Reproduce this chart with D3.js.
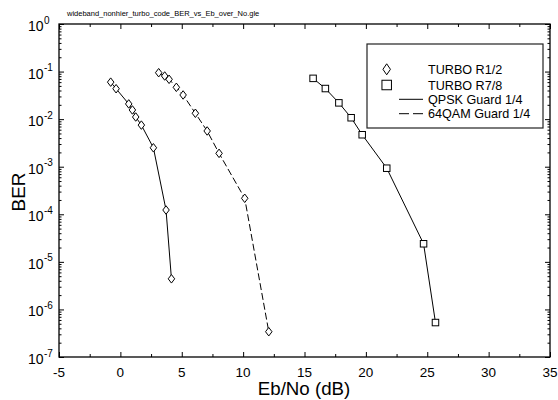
<!DOCTYPE html>
<html><head><meta charset="utf-8">
<script src="https://cdn.jsdelivr.net/npm/d3@7"></script>
<style>
html,body{margin:0;padding:0;background:#fff;}
text{font-family:"Liberation Sans",Arial,sans-serif;fill:#000;}
</style></head>
<body><svg id="c" width="558" height="400"></svg>
<script>
const titleText = "wideband_nonhier_turbo_code_BER_vs_Eb_over_No.gle";
const xTicks = [-5, 0, 5, 10, 15, 20, 25, 30, 35];
const yExponents = [0, -1, -2, -3, -4, -5, -6, -7];

const r12qpskX = [-0.79, -0.35, 0.68, 0.98, 1.25, 1.71, 2.69, 3.72, 4.16];
const r12qpskY = [0.060, 0.0436, 0.0209, 0.0156, 0.0111, 0.0075, 0.0025, 1.23e-4, 4.4e-6];

const r12qamX = [3.12, 3.61, 3.97, 4.56, 5.11, 6.11, 7.07, 8.04, 10.13, 12.09];
const r12qamY = [0.0946, 0.0807, 0.0688, 0.0467, 0.0322, 0.0133, 0.00564, 0.00191, 2.17e-4, 3.4e-7];

const r78X = [15.7, 16.7, 17.8, 18.8, 19.7, 21.7, 24.7, 25.67];
const r78Y = [0.072, 0.044, 0.022, 0.0107, 0.0047, 9.3e-4, 2.4e-5, 5.3e-7];

const legendLabels = ["TURBO R1/2", "TURBO R7/8", "QPSK Guard 1/4", "64QAM Guard 1/4"];

const svg = d3.select("#c");
const L = 59, R = 550, T = 24, B = 357;
const x = d3.scaleLinear().domain([-5, 35]).range([L, R]);
const y = d3.scaleLog().domain([1e-7, 1]).range([B, T]);

// title
svg.append("text").attr("x", 67).attr("y", 15.5).attr("font-size", 7.5).text(titleText);

// minor / major tick values
const xMinor = d3.range(-2.5, 35, 5);
const yMinor = [];
for (let e = -7; e < 0; e++) for (let m = 2; m <= 9; m++) yMinor.push(m * Math.pow(10, e));
const yMajor = yExponents.map(e => Math.pow(10, e));

function ax(gen, tx, ty, vals, size) {
  const g = svg.append("g").attr("transform", `translate(${tx},${ty})`)
    .call(gen.tickValues(vals).tickSizeInner(size).tickSizeOuter(0).tickFormat(""));
  g.select(".domain").remove();
  g.selectAll(".tick line").attr("stroke", "#000").attr("stroke-width", 1);
  return g;
}
// bottom
ax(d3.axisBottom(x), 0, B, xTicks, -5);
ax(d3.axisBottom(x), 0, B, xMinor, -3);
// top
ax(d3.axisTop(x), 0, T, xTicks, -5);
ax(d3.axisTop(x), 0, T, xMinor, -3);
// left
ax(d3.axisLeft(y), L, 0, yMajor, -5);
ax(d3.axisLeft(y), L, 0, yMinor, -2.5);
// right
ax(d3.axisRight(y), R, 0, yMajor, -5);
ax(d3.axisRight(y), R, 0, yMinor, -2.5);

// frame
svg.append("rect").attr("x", L).attr("y", T).attr("width", R - L).attr("height", B - T)
  .attr("fill", "none").attr("stroke", "#000").attr("stroke-width", 1.3);

// x labels
svg.append("g").selectAll("text").data(xTicks).join("text")
  .attr("x", d => x(d)).attr("y", 376.5).attr("text-anchor", "middle")
  .attr("font-size", 13.5).text(d => d);

// y labels
const yl = svg.append("g").selectAll("g").data(yExponents).join("g")
  .attr("transform", e => `translate(0,${y(Math.pow(10, e))})`);
yl.append("text").attr("x", 43.5).attr("y", 7).attr("text-anchor", "end")
  .attr("font-size", 14).text("10");
yl.append("text").attr("x", 44).attr("y", -0.5).attr("font-size", 10).text(e => e);

// axis titles
svg.append("text").attr("x", 304).attr("y", 395).attr("text-anchor", "middle")
  .attr("font-size", 18.7).text("Eb/No (dB)");
svg.append("text").attr("transform", "translate(25,192) rotate(-90)")
  .attr("text-anchor", "middle").attr("font-size", 19).text("BER");

// series
const line = d3.line().x(d => x(d[0])).y(d => y(d[1]));
const s1 = d3.zip(r12qpskX, r12qpskY);
const s2 = d3.zip(r12qamX, r12qamY);
const s3 = d3.zip(r78X, r78Y);

svg.append("path").datum(s1).attr("d", line).attr("fill", "none").attr("stroke", "#000").attr("stroke-width", 1);
svg.append("path").datum(s2).attr("d", line).attr("fill", "none").attr("stroke", "#000").attr("stroke-width", 1).attr("stroke-dasharray", "7,3");
svg.append("path").datum(s3).attr("d", line).attr("fill", "none").attr("stroke", "#000").attr("stroke-width", 1);

function diamond(sel, w, h) {
  return sel.append("path").attr("d", `M0,${-h/2}L${w/2},0L0,${h/2}L${-w/2},0Z`)
    .attr("fill", "#fff").attr("stroke", "#000").attr("stroke-width", 1);
}
function square(sel, s) {
  return sel.append("rect").attr("x", -s/2).attr("y", -s/2).attr("width", s).attr("height", s)
    .attr("fill", "#fff").attr("stroke", "#000").attr("stroke-width", 1);
}
[s1, s2].forEach(s => {
  svg.append("g").selectAll("g").data(s).join("g")
    .attr("transform", d => `translate(${x(d[0])},${y(d[1])})`)
    .each(function () { diamond(d3.select(this), 6.5, 8.5); });
});
svg.append("g").selectAll("g").data(s3).join("g")
  .attr("transform", d => `translate(${x(d[0])},${y(d[1])})`)
  .each(function () { square(d3.select(this), 6.5); });

// legend
const lg = svg.append("g");
lg.append("rect").attr("x", 367).attr("y", 44).attr("width", 176).attr("height", 84)
  .attr("fill", "#fff").attr("stroke", "#222").attr("stroke-width", 1.2);
const rowsY = [69.3, 85, 99.3, 113.7];
legendLabels.forEach((t, i) => {
  lg.append("text").attr("x", 428).attr("y", rowsY[i] + 4.5).attr("font-size", 12.6).text(t);
});
diamond(lg.append("g").attr("transform", `translate(386.7,${rowsY[0]})`), 7.5, 11);
square(lg.append("g").attr("transform", `translate(386.7,${rowsY[1]})`), 9.5);
lg.append("line").attr("x1", 399).attr("x2", 423).attr("y1", rowsY[2]).attr("y2", rowsY[2]).attr("stroke", "#000");
lg.append("line").attr("x1", 399).attr("x2", 423).attr("y1", rowsY[3]).attr("y2", rowsY[3]).attr("stroke", "#000").attr("stroke-dasharray", "10,4");
</script></body></html>
